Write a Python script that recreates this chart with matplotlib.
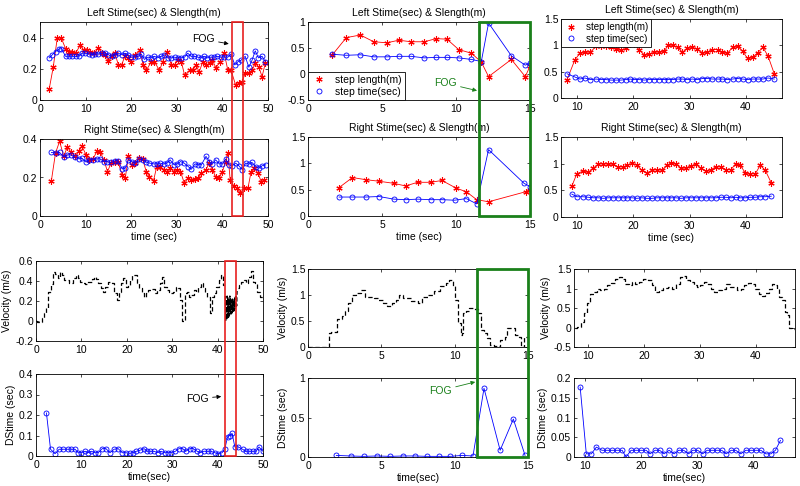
import numpy as np
import matplotlib
matplotlib.use("Agg")
import matplotlib.pyplot as plt
from matplotlib.lines import Line2D
from matplotlib.patches import Rectangle
from matplotlib.ticker import FormatStrFormatter

# ── Data: subject 1 (left column) ─────────────────────────────────────────
len1_t = [2.0, 2.9, 3.8, 4.7, 5.6, 6.3, 7.0, 7.8, 8.8, 9.6, 10.3, 11.0, 11.9, 12.8, 13.5,
          14.3, 15.0, 15.7, 16.4, 17.2, 17.9, 18.6, 19.3, 20.0, 20.8, 21.9, 22.6, 23.3, 24.4,
          25.1, 26.2, 26.9, 27.8, 28.8, 29.5, 30.2, 31.0, 31.7, 32.8, 33.5, 34.2, 34.9, 35.7,
          36.4, 37.2, 37.8, 38.6, 39.4, 40.4, 41.2, 41.9, 42.9, 43.6, 44.3, 45.0, 45.8, 46.5,
          47.2, 48.0, 48.7, 49.4]
len1_v = [0.068, 0.21, 0.40, 0.395, 0.33, 0.31, 0.31, 0.30, 0.35, 0.32, 0.32, 0.31, 0.30,
          0.335, 0.30, 0.29, 0.25, 0.28, 0.30, 0.225, 0.225, 0.28, 0.27, 0.245, 0.29, 0.32,
          0.225, 0.19, 0.245, 0.245, 0.19, 0.245, 0.31, 0.225, 0.225, 0.255, 0.245, 0.16,
          0.19, 0.19, 0.225, 0.18, 0.245, 0.225, 0.235, 0.255, 0.205, 0.245, 0.30, 0.19, 0.19,
          0.096, 0.107, 0.117, 0.17, 0.17, 0.19, 0.235, 0.21, 0.15, 0.235]
tim1_t = [2.0, 2.7, 3.4, 4.1, 4.7, 5.6, 6.3, 7.0, 7.8, 8.5, 9.2, 9.9, 10.7, 11.4, 12.1, 12.8,
          13.6, 14.3, 15.0, 15.7, 16.4, 17.2, 17.9, 18.6, 19.3, 20.0, 20.8, 21.5, 22.2, 22.9,
          23.7, 24.4, 25.1, 25.8, 26.6, 27.3, 28.0, 28.8, 29.5, 30.2, 30.9, 31.7, 32.4, 33.1,
          33.8, 34.6, 35.3, 36.0, 36.7, 37.5, 38.2, 38.9, 39.6, 40.4, 41.2, 41.9, 42.7, 43.4,
          44.1, 45.0, 45.8, 46.5, 47.2, 47.9, 48.7, 49.4]
tim1_v = [0.27, 0.29, 0.31, 0.325, 0.33, 0.28, 0.28, 0.28, 0.28, 0.28, 0.30, 0.30, 0.295,
          0.29, 0.295, 0.295, 0.30, 0.30, 0.29, 0.28, 0.29, 0.30, 0.29, 0.30, 0.29, 0.275,
          0.275, 0.28, 0.295, 0.26, 0.275, 0.27, 0.28, 0.27, 0.28, 0.29, 0.27, 0.27, 0.275,
          0.27, 0.27, 0.275, 0.30, 0.28, 0.28, 0.275, 0.27, 0.28, 0.27, 0.275, 0.275, 0.28,
          0.275, 0.275, 0.275, 0.295, 0.225, 0.245, 0.255, 0.28, 0.21, 0.255, 0.315, 0.27,
          0.28, 0.245]

rlen1_t = [2.5, 3.4, 4.3, 5.2, 6.0, 6.8, 7.6, 8.5, 9.2, 10.1, 10.8, 11.6, 12.5, 13.2, 14.0,
           14.8, 15.6, 16.4, 17.1, 18.0, 18.7, 19.4, 20.1, 20.9, 21.8, 22.5, 23.3, 24.0, 24.9,
           25.6, 26.3, 27.1, 27.8, 28.5, 29.4, 30.1, 30.8, 31.6, 32.5, 33.2, 34.0, 34.7, 35.4,
           36.4, 37.1, 37.8, 38.5, 39.3, 40.0, 40.7, 41.2, 41.7, 42.5, 43.3, 43.9, 44.7, 45.6,
           46.3, 47.0, 47.8, 48.5, 49.2]
rlen1_v = [0.184, 0.327, 0.388, 0.31, 0.358, 0.332, 0.31, 0.336, 0.362, 0.318, 0.292, 0.296,
           0.336, 0.332, 0.292, 0.231, 0.275, 0.283, 0.283, 0.214, 0.197, 0.31, 0.266, 0.275,
           0.30, 0.296, 0.231, 0.205, 0.184, 0.257, 0.257, 0.24, 0.231, 0.249, 0.231, 0.24,
           0.231, 0.174, 0.197, 0.188, 0.19, 0.197, 0.223, 0.24, 0.275, 0.24, 0.205, 0.197,
           0.231, 0.283, 0.327, 0.188, 0.157, 0.144, 0.118, 0.144, 0.144, 0.231, 0.249, 0.223,
           0.179, 0.188]
rtim1_t = [2.5, 3.4, 4.3, 5.2, 6.0, 6.8, 7.6, 8.5, 9.2, 10.1, 10.8, 11.6, 12.5, 13.2, 14.0,
           14.8, 15.6, 16.4, 17.1, 18.0, 18.7, 19.4, 20.1, 20.9, 21.8, 22.5, 23.3, 24.0, 24.9,
           25.6, 26.3, 27.1, 27.8, 28.5, 29.4, 30.1, 30.8, 31.6, 32.5, 33.2, 34.0, 34.7, 35.4,
           36.4, 37.1, 37.8, 38.5, 39.3, 40.0, 40.7, 41.5, 42.2, 42.9, 43.6, 44.4, 45.1, 45.8,
           46.5, 47.3, 48.0, 48.7, 49.5]
rtim1_v = [0.33, 0.327, 0.33, 0.306, 0.318, 0.318, 0.304, 0.297, 0.30, 0.28, 0.292, 0.292,
           0.297, 0.296, 0.283, 0.283, 0.278, 0.287, 0.287, 0.245, 0.249, 0.292, 0.283, 0.275,
           0.296, 0.292, 0.28, 0.275, 0.271, 0.27, 0.275, 0.27, 0.275, 0.292, 0.266, 0.271,
           0.283, 0.275, 0.257, 0.243, 0.271, 0.266, 0.266, 0.31, 0.283, 0.27, 0.292, 0.271,
           0.27, 0.296, 0.266, 0.261, 0.275, 0.261, 0.24, 0.275, 0.27, 0.278, 0.257, 0.249,
           0.261, 0.266]

vel1_slow_t = np.arange(0, 42, 0.5)
vel1_slow_v = [0.0, -0.01, -0.01, 0.03, 0.08, 0.13, 0.29, 0.37, 0.49, 0.47,
               0.43, 0.49, 0.46, 0.41, 0.41, 0.38, 0.38, 0.43, 0.46, 0.43,
               0.39, 0.38, 0.37, 0.39, 0.39, 0.42, 0.44, 0.42, 0.38, 0.33,
               0.29, 0.34, 0.39, 0.39, 0.38, 0.28, 0.21, 0.29, 0.38, 0.43,
               0.34, 0.36, 0.41, 0.46, 0.46, 0.38, 0.33, 0.28, 0.24, 0.28,
               0.31, 0.32, 0.32, 0.28, 0.31, 0.38, 0.44, 0.34, 0.31, 0.29,
               0.28, 0.29, 0.34, 0.33, 0.21, 0.0, 0.28, 0.29, 0.24, 0.26,
               0.31, 0.29, 0.34, 0.38, 0.33, 0.29, 0.24, 0.08, 0.24, 0.28,
               0.34, 0.41, 0.46, 0.36]
vel1_fog_t = np.arange(41.7, 44.35, 0.1)
vel1_fog_v = [0.25, 0.0, 0.22, 0.01, 0.25, 0.02, 0.24, 0.03, 0.22, 0.05,
              0.25, 0.06, 0.22, 0.07, 0.20, 0.08, 0.22, 0.09, 0.21, 0.10,
              0.22, 0.12, 0.24, 0.13, 0.26, 0.15, 0.30]
vel1_end_t = np.arange(44.5, 50.01, 0.5)
vel1_end_v = [0.33, 0.36, 0.39, 0.41, 0.38, 0.44, 0.50, 0.39, 0.38, 0.29, 0.24, 0.26]

ds1_t = [2.3, 3.2, 4.2, 5.1, 6.0, 7.0, 7.8, 8.6, 9.3, 10.0, 10.8, 11.5, 12.2, 13.0, 13.7,
         14.6, 15.4, 16.3, 17.2, 18.1, 19.0, 19.8, 20.7, 21.4, 22.1, 22.9, 23.8, 24.5, 25.2,
         26.0, 26.8, 27.5, 28.4, 29.1, 29.8, 30.7, 31.5, 32.3, 33.0, 33.9, 34.6, 35.5, 36.2,
         36.9, 37.8, 38.5, 39.4, 40.1, 41.0, 41.6, 42.2, 42.7, 43.2, 43.8, 44.6, 45.5, 46.2,
         46.9, 47.8, 48.5, 49.1, 50.0]
ds1_v = [0.21, 0.033, 0.011, 0.033, 0.033, 0.033, 0.033, 0.033, 0.016, 0.016, 0.023, 0.016,
         0.023, 0.016, 0.016, 0.036, 0.036, 0.016, 0.033, 0.036, 0.016, 0.016, 0.013, 0.016,
         0.023, 0.028, 0.036, 0.023, 0.023, 0.023, 0.016, 0.023, 0.016, 0.016, 0.016, 0.023,
         0.036, 0.036, 0.023, 0.036, 0.036, 0.023, 0.016, 0.023, 0.023, 0.023, 0.016, 0.011,
         0.016, 0.036, 0.093, 0.10, 0.11, 0.044, 0.044, 0.033, 0.023, 0.023, 0.023, 0.023,
         0.044, 0.023]

# ── Data: subject 2 (middle column) ───────────────────────────────────────
len2_t = [1.62, 2.59, 3.54, 4.44, 5.34, 6.13, 6.96, 7.86, 8.65, 9.39, 10.18, 11.04, 11.71,
          12.2, 13.74, 14.68, 15.0]
len2_v = [0.36, 0.70, 0.75, 0.62, 0.60, 0.65, 0.62, 0.62, 0.68, 0.67, 0.47, 0.40, 0.23,
          -0.05, 0.28, -0.05, 0.15]
tim2_v = [0.38, 0.36, 0.37, 0.33, 0.33, 0.34, 0.34, 0.31, 0.32, 0.32, 0.31, 0.28, 0.24,
          0.98, 0.35, 0.17, 0.21]

rlen2_t = [2.1, 3.0, 3.9, 4.8, 5.8, 6.6, 7.4, 8.3, 9.05, 10.0, 10.7, 11.4, 12.2, 14.7, 15.0]
rlen2_v = [0.54, 0.73, 0.69, 0.66, 0.62, 0.57, 0.64, 0.64, 0.675, 0.53, 0.46, 0.31, 0.27,
           0.46, 0.50]
rtim2_t = [2.1, 3.0, 3.9, 4.8, 5.8, 6.6, 7.4, 8.3, 9.05, 9.9, 10.7, 11.4, 12.2, 14.6, 15.0]
rtim2_v = [0.36, 0.36, 0.36, 0.37, 0.32, 0.31, 0.32, 0.31, 0.31, 0.30, 0.33, 0.23, 1.26,
           0.62, 0.56]

vel2_t = [0, 0.5, 1.0, 1.36, 1.4, 1.6, 1.8, 2.0, 2.3, 2.5, 2.7, 3.0, 3.3, 3.6, 3.9, 4.2,
          4.5, 4.8, 5.1, 5.4, 5.7, 6.0, 6.2, 6.5, 7.0, 7.5, 7.8, 8.2, 8.6, 9.0, 9.4, 9.6,
          9.9, 10.0, 10.2, 10.4, 10.5, 10.6, 10.8, 11.0, 11.3, 11.6, 11.8, 12.0, 12.2, 12.4,
          12.7, 13.0, 13.1, 13.4, 13.6, 13.9, 14.1, 14.4, 14.5, 14.7, 15.0]
vel2_v = [0, 0, 0, 0, 0.27, 0.28, 0.28, 0.53, 0.59, 0.69, 0.85, 1.0, 1.04, 1.1, 0.97, 0.97,
          0.95, 0.91, 0.85, 0.79, 0.85, 0.91, 1.0, 0.94, 0.88, 0.85, 0.97, 1.0, 1.07, 1.17,
          1.23, 1.28, 1.17, 0.91, 0.46, 0.24, 0.27, 0.65, 0.69, 0.75, 0.73, 0.65, 0.33, 0.27,
          0.17, 0.04, 0.01, 0.0, 0.14, 0.2, 0.37, 0.37, 0.24, 0.2, 0.0, 0.19, 0.19]

ds2_t = [1.93, 2.9, 3.8, 4.7, 5.6, 6.5, 7.3, 8.1, 8.9, 9.7, 10.5, 11.25, 12.0, 13.1, 14.0, 14.8]
ds2_v = [0.02, 0.013, 0.008, 0.013, 0.008, 0.013, 0.013, 0.008, 0.008, 0.008, 0.02, 0.013,
         0.87, 0.085, 0.48, 0.02]

# ── Data: subject 3 (right column) ────────────────────────────────────────
len3_t = [8.28, 9.64, 10.53, 11.42, 12.43, 13.38, 14.27, 15.16, 16.05, 16.94, 17.82, 18.71,
          19.43, 20.2, 21.03, 21.97, 22.86, 23.69, 24.58, 25.47, 26.24, 27.01, 27.9, 28.73,
          29.62, 30.51, 31.4, 32.29, 33.18, 34.07, 34.96, 35.84, 36.73, 37.62, 38.51, 39.4,
          40.29, 41.18, 42.07, 43.02, 43.91, 45.03]
len3_v = [0.35, 0.72, 0.85, 0.87, 0.87, 0.98, 0.99, 0.99, 0.96, 0.93, 0.91, 0.94, 1.02, 1.02,
          0.92, 0.82, 0.83, 0.87, 0.87, 0.89, 1.0, 1.0, 0.96, 0.87, 0.94, 0.96, 0.93, 0.86,
          0.87, 0.92, 0.92, 0.87, 0.85, 0.96, 0.98, 0.89, 0.75, 0.77, 0.86, 0.96, 0.80, 0.46]
tim3_v = [0.46, 0.40, 0.36, 0.38, 0.35, 0.36, 0.35, 0.35, 0.34, 0.34, 0.34, 0.35, 0.36, 0.35,
          0.35, 0.34, 0.35, 0.35, 0.35, 0.35, 0.35, 0.35, 0.36, 0.36, 0.35, 0.36, 0.35, 0.37,
          0.37, 0.36, 0.36, 0.36, 0.35, 0.36, 0.37, 0.36, 0.35, 0.36, 0.36, 0.36, 0.38, 0.36]

rlen3_t = [9.11, 10.0, 11.07, 12.07, 12.96, 13.85, 14.73, 15.5, 16.39, 17.28, 18.17, 18.99,
           19.82, 20.65, 21.54, 22.43, 23.31, 24.2, 25.09, 25.98, 26.75, 27.63, 28.46, 29.35,
           30.24, 31.12, 32.01, 32.9, 33.79, 34.67, 35.56, 36.45, 37.34, 38.22, 38.99, 39.88,
           40.77, 41.66, 42.54, 43.43, 44.5]
rlen3_v = [0.575, 0.81, 0.86, 0.84, 0.92, 0.99, 1.0, 0.99, 0.99, 0.94, 0.94, 0.97, 1.01, 0.97,
           0.875, 0.825, 0.875, 0.89, 0.875, 0.97, 1.01, 1.0, 0.91, 0.92, 0.96, 0.99, 0.91,
           0.86, 0.89, 0.94, 0.94, 0.89, 0.89, 1.0, 0.97, 0.83, 0.81, 0.81, 0.97, 0.875, 0.64]
rtim3_v = [0.43, 0.38, 0.38, 0.37, 0.36, 0.36, 0.35, 0.36, 0.36, 0.36, 0.36, 0.36, 0.36, 0.35,
           0.36, 0.35, 0.35, 0.36, 0.36, 0.36, 0.36, 0.36, 0.35, 0.36, 0.36, 0.36, 0.36, 0.36,
           0.36, 0.36, 0.37, 0.37, 0.36, 0.37, 0.36, 0.36, 0.37, 0.37, 0.38, 0.38, 0.39]

vel3_t = [7.6, 8.5, 8.9, 9.5, 10.1, 10.7, 11.3, 11.9, 12.5, 13.1, 13.7, 14.4, 15.2, 15.8,
          16.4, 17.0, 17.6, 18.2, 18.75, 19.5, 20.2, 21.1, 21.7, 22.3, 23.1, 23.8, 24.7,
          25.5, 26.1, 26.7, 27.3, 27.9, 28.6, 29.2, 29.8, 30.4, 31.0, 31.5, 32.3, 32.9, 33.6,
          34.4, 35.1, 35.7, 36.3, 37.0, 37.6, 38.2, 39.0, 39.6, 40.2, 40.8, 41.4, 42.0, 42.6,
          43.0, 43.6, 44.1, 44.3, 44.9, 45.4, 45.8, 46.1, 47.0]
vel3_v = [0, 0.02, 0.15, 0.36, 0.62, 0.87, 0.92, 1.0, 0.96, 1.0, 1.08, 1.15, 1.25, 1.3, 1.25,
          1.12, 1.08, 1.17, 1.12, 1.17, 1.25, 1.21, 1.08, 0.92, 0.96, 1.02, 1.04, 1.0, 1.12,
          1.29, 1.33, 1.21, 1.17, 1.08, 1.04, 1.08, 1.17, 1.12, 1.0, 0.92, 0.96, 1.0, 1.12,
          1.04, 1.04, 0.96, 1.0, 1.08, 1.14, 1.12, 1.0, 0.87, 0.81, 0.89, 1.0, 1.12, 1.10, 1.0,
          0.79, 0.7, 0.41, 0.32, -0.02, -0.03]

ds3_t = [9.1, 10.2, 11.1, 12.0, 13.0, 13.9, 14.8, 15.7, 16.6, 17.3, 18.2, 19.1, 20.0, 20.9,
         21.6, 22.5, 23.3, 24.1, 25.0, 25.9, 26.7, 27.6, 28.5, 29.2, 30.1, 31.0, 31.8, 32.7,
         33.6, 34.4, 35.2, 36.1, 36.9, 37.8, 38.7, 39.6, 40.5, 41.4, 42.3, 43.2, 44.0, 44.9]
ds3_v = [0.177, 0.008, 0.008, 0.025, 0.017, 0.017, 0.017, 0.017, 0.017, 0.0, 0.017, 0.017,
         0.017, 0.017, 0.008, 0.017, 0.017, 0.008, 0.017, 0.008, 0.017, 0.017, 0.008, 0.017,
         0.017, 0.008, 0.017, 0.017, 0.017, 0.017, 0.008, 0.017, 0.017, 0.008, 0.017, 0.017,
         0.017, 0.017, 0.008, 0.008, 0.017, 0.042]

# FOG windows (sec)
fog1_top = (42.2, 44.5)
fog1_bot = (41.7, 44.1)
fog2_top = (11.58, 15.0)
fog2_bot = (11.5, 15.0)

# ── Style ─────────────────────────────────────────────────────────────────
plt.rcParams.update({
    "font.family": ["Liberation Sans", "DejaVu Sans"],
    "font.size": 7.5,
    "axes.linewidth": 0.6,
    "xtick.direction": "in",
    "ytick.direction": "in",
    "xtick.top": True,
    "ytick.right": True,
    "xtick.major.size": 2.5,
    "ytick.major.size": 2.5,
    "xtick.major.width": 0.5,
    "ytick.major.width": 0.5,
    "xtick.major.pad": 3,
    "ytick.major.pad": 2,
})

W, H = 800, 486
fig = plt.figure(figsize=(W / 100, H / 100), dpi=100)


def box(x0, y0, x1, y1):
    return fig.add_axes([x0 / W, 1 - y1 / H, (x1 - x0) / W, (y1 - y0) / H])


RED = "#ff0000"
BLUE = "#0000ff"
GREEN = "#1a801a"
ASTER = (6, 2, 0)          # MATLAB-like '*' marker
DASH = (3.5, 2)


def stride(ax, lt, lv, tt, tv):
    ax.plot(lt, lv, "-", color=RED, lw=0.6, marker=ASTER, ms=4.5, mew=0.8)
    ax.plot(tt, tv, "-", color=BLUE, lw=0.6, marker="o", ms=3.6, mfc="none", mew=0.6)


def velocity(ax, t, v, ds="steps-mid"):
    ax.plot(t, v, color="k", ls="--", dashes=DASH, lw=0.9, drawstyle=ds)


def style(ax, xlim, xticks, ylim, yticks, fmt="%g"):
    ax.set_xlim(*xlim)
    ax.set_ylim(*ylim)
    ax.set_xticks(xticks)
    ax.set_yticks(yticks)
    ax.yaxis.set_major_formatter(FormatStrFormatter(fmt))
    ax.xaxis.set_major_formatter(FormatStrFormatter("%g"))


# Column 1
a11 = box(40, 22, 268, 100)
stride(a11, len1_t, len1_v, tim1_t, tim1_v)
style(a11, (0, 50), range(0, 51, 10), (0, 0.5), [0, 0.2, 0.4])
a11.set_title("Left Stime(sec) & Slength(m)", fontsize=7.5, pad=4)

a21 = box(40, 139, 268, 216)
stride(a21, rlen1_t, rlen1_v, rtim1_t, rtim1_v)
style(a21, (0, 50), range(0, 51, 10), (0, 0.4), [0, 0.2, 0.4])
a21.set_title("Right Stime(sec) & Slength(m)", fontsize=7.5, pad=4)
a21.set_xlabel("time (sec)", labelpad=1)

a31 = box(36, 261, 263, 341)
velocity(a31, vel1_slow_t, vel1_slow_v)
velocity(a31, vel1_fog_t, vel1_fog_v, ds="default")
velocity(a31, vel1_end_t, vel1_end_v)
style(a31, (0, 50), range(0, 51, 10), (-0.2, 0.6), [-0.2, 0, 0.2, 0.4, 0.6])
a31.set_ylabel("Velocity (m/s)", labelpad=2)

a41 = box(36, 374, 263, 456)
a41.plot(ds1_t, ds1_v, "-", color=BLUE, lw=0.6, marker="o", ms=3.6, mfc="none", mew=0.6)
style(a41, (0, 50), range(0, 51, 10), (0, 0.4), [0, 0.1, 0.2, 0.3, 0.4])
a41.set_xlabel("time(sec)", labelpad=1)
a41.set_ylabel("DStime (sec)", labelpad=2)

# Column 2
a12 = box(308, 22, 530, 100)
stride(a12, len2_t, len2_v, len2_t, tim2_v)
style(a12, (0, 15), [0, 5, 10, 15], (-0.5, 1), [-0.5, 0, 0.5, 1])
a12.set_title("Left Stime(sec) & Slength(m)", fontsize=7.5, pad=4)
handles = [Line2D([], [], color=RED, marker=ASTER, ls="none", ms=4.5, mew=0.8),
           Line2D([], [], color=BLUE, marker="o", ls="none", ms=3.6, mfc="none", mew=0.6)]
lab = ["step length(m)", "step time(sec)"]
lg = a12.legend(handles, lab, loc="lower left", fancybox=False, framealpha=1,
                edgecolor="k", borderpad=0.3, handlelength=1.5, handletextpad=0.8,
                labelspacing=0.2, borderaxespad=0, fontsize=7.5)
lg.get_frame().set_linewidth(0.6)

a22 = box(308, 137, 530, 216)
stride(a22, rlen2_t, rlen2_v, rtim2_t, rtim2_v)
style(a22, (0, 15), [0, 5, 10, 15], (0, 1.5), [0, 0.5, 1, 1.5])
a22.set_title("Right Stime(sec) & Slength(m)", fontsize=7.5, pad=4)
a22.set_xlabel("time (sec)", labelpad=1)

a32 = box(308, 269, 528, 347)
velocity(a32, vel2_t, vel2_v, ds="steps-post")
style(a32, (0, 15), [0, 5, 10, 15], (0, 1.5), [0, 0.5, 1, 1.5])
a32.set_ylabel("Velocity (m/s)", labelpad=2)

a42 = box(308, 378, 528, 457)
a42.plot(ds2_t, ds2_v, "-", color=BLUE, lw=0.6, marker="o", ms=3.6, mfc="none", mew=0.6)
style(a42, (0, 15), [0, 5, 10, 15], (0, 1), [0, 0.5, 1])
a42.set_xlabel("time(sec)", labelpad=1)
a42.set_ylabel("DStime (sec)", labelpad=2)

# Column 3
a13 = box(561, 19, 782, 98)
stride(a13, len3_t, len3_v, len3_t, tim3_v)
style(a13, (7.2, 46.4), [10, 20, 30, 40], (0, 1.5), [0, 0.5, 1, 1.5])
a13.set_title("Left Stime(sec) & Slength(m)", fontsize=7.5, pad=4)
lg3 = a13.legend(handles, lab, loc="upper left", fancybox=False, framealpha=1,
                 edgecolor="k", borderpad=0.3, handlelength=1.5, handletextpad=0.8,
                 labelspacing=0.2, borderaxespad=0, fontsize=7)
lg3.get_frame().set_linewidth(0.6)

a23 = box(561, 137, 782, 217)
stride(a23, rlen3_t, rlen3_v, rlen3_t, rtim3_v)
style(a23, (7.2, 46.4), [10, 20, 30, 40], (0, 1.5), [0, 0.5, 1, 1.5])
a23.set_title("Right Stime(sec) & Slength(m)", fontsize=7.5, pad=4)
a23.set_xlabel("time (sec)", labelpad=1)

a33 = box(574, 269, 795, 347)
velocity(a33, vel3_t, vel3_v)
style(a33, (7.5, 47), [10, 20, 30, 40], (-0.5, 1.5), [-0.5, 0, 0.5, 1, 1.5])
a33.set_ylabel("Velocity (m/s)", labelpad=2)

a43 = box(574, 378, 795, 457)
a43.plot(ds3_t, ds3_v, "-", color=BLUE, lw=0.6, marker="o", ms=3.6, mfc="none", mew=0.6)
style(a43, (8, 47.5), [10, 20, 30, 40], (0, 0.2), [0, 0.05, 0.1, 0.15, 0.2])
a43.set_xlabel("time(sec)", labelpad=1)
a43.set_ylabel("DStime (sec)", labelpad=2)

# ── FOG annotations ───────────────────────────────────────────────────────
arrow_k = dict(arrowstyle="-|>", color="k", lw=0.6, mutation_scale=6, shrinkA=1, shrinkB=0)
arrow_g = dict(arrowstyle="-|>", color=GREEN, lw=0.6, mutation_scale=6, shrinkA=1, shrinkB=0)
a11.annotate("FOG", xy=(41.4, 0.36), xytext=(33.3, 0.39), ha="left", va="center",
             arrowprops=arrow_k)
a41.annotate("FOG", xy=(40.8, 0.29), xytext=(33.0, 0.28), ha="left", va="center",
             arrowprops=arrow_k)
a12.annotate("FOG", xy=(11.42, -0.32), xytext=(8.5, -0.175), ha="left", va="center",
             color=GREEN, arrowprops=arrow_g)
a42.annotate("FOG", xy=(11.4, 0.95), xytext=(8.25, 0.84), ha="left", va="center",
             color=GREEN, arrowprops=arrow_g)

inv = fig.transFigure.inverted()


def fog_rect(ax_top, ax_bot, span, color, lw):
    x0, y1 = inv.transform(ax_top.transData.transform((span[0], ax_top.get_ylim()[1])))
    x1, y0 = inv.transform(ax_bot.transData.transform((span[1], ax_bot.get_ylim()[0])))
    fig.patches.append(Rectangle((x0, y0), x1 - x0, y1 - y0, transform=fig.transFigure,
                                 fill=False, ec=color, lw=lw, zorder=10))


fog_rect(a11, a21, fog1_top, "#e82020", 1.2)
fog_rect(a31, a41, fog1_bot, "#e82020", 1.2)
fog_rect(a12, a22, fog2_top, GREEN, 2.0)
fog_rect(a32, a42, fog2_bot, GREEN, 2.0)

fig.savefig("out.png", dpi=100)
